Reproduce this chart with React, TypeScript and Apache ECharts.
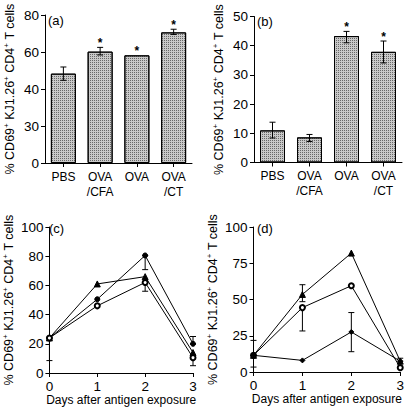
import React, { useEffect, useRef } from 'react';
import * as echarts from 'echarts';

const FONT = '"Liberation Sans", Arial, Helvetica, sans-serif';

// ---- data ----
const categories = ['PBS', 'OVA\n/CFA', 'OVA', 'OVA\n/CT'];

const yTicksA = ['0', '30', '40', '60', '80'];
const barA = [48.3, 60.2, 58.2, 70.6];
const errLowA = [44.7, 58.4, 58.2, 69.5];
const errHighA = [51.9, 62.5, 58.2, 72.3];
const sigA = [0, 1, 1, 1];

const barB = [11.0, 8.6, 43.3, 37.9];
const errLowB = [8.4, 7.2, 41.0, 34.1];
const errHighB = [13.8, 9.6, 44.9, 41.6];
const sigB = [0, 0, 1, 1];

const days = [0, 1, 2, 3];
const triC = [24, 61, 66, 14];
const dotC = [24, 50.5, 80.5, 20];
const openC = [24, 46, 62, 10.5];
const errDayC = [0, 2, 2, 3, 3];
const errLowC = [8.5, 70.8, 56, 5, 20];
const errHighC = [24, 80.5, 62, 10.5, 25];

const triD = [11.5, 53.5, 82, 7.5];
const openD = [11.5, 44.4, 59.5, 3];
const diaD = [11.5, 8, 27.6, 7.5];
const errDayD = [0, 1, 1, 2, 3];
const errLowD = [3.4, 48.5, 28.3, 14, 7.5];
const errHighD = [21.8, 60.2, 44.4, 41, 9.5];

const yName = '% CD69{s|+} KJ1.26{s|+} CD4{s|+} T cells';
const xNameLine = 'Days after antigen exposure';

// ---- helpers ----
const nameStyle = {
  fontFamily: FONT,
  fontSize: 12.5,
  color: '#000',
  lineHeight: 16,
  rich: {
    s: { fontFamily: FONT, fontSize: 8, lineHeight: 8, verticalAlign: 'top', color: '#000' },
  },
};

function yAxis(gridIndex: number, max: number, interval: number, labels?: string[]) {
  return {
    type: 'value',
    gridIndex,
    min: 0,
    max,
    interval,
    name: yName,
    nameLocation: 'middle',
    nameGap: 27,
    nameTextStyle: nameStyle,
    axisLine: { show: true, lineStyle: { color: '#000', width: 1 } },
    axisTick: { show: true, inside: false, length: 4, lineStyle: { color: '#000' } },
    splitLine: { show: false },
    axisLabel: {
      fontFamily: FONT,
      fontSize: 13.5,
      color: '#000',
      margin: 6,
      formatter: labels
        ? (v: number) => labels[Math.round(v / interval)] ?? String(v)
        : undefined,
    },
  };
}

function catAxis(gridIndex: number) {
  return {
    type: 'category',
    gridIndex,
    data: categories,
    axisLine: { show: true, lineStyle: { color: '#000', width: 1 } },
    axisTick: { show: true, alignWithLabel: true, length: 4, lineStyle: { color: '#000' } },
    axisLabel: {
      fontFamily: FONT,
      fontSize: 12,
      lineHeight: 15,
      color: '#000',
      margin: 6,
      interval: 0,
    },
  };
}

function dayAxis(gridIndex: number) {
  return {
    type: 'value',
    gridIndex,
    min: 0,
    max: 3,
    interval: 1,
    name: xNameLine,
    nameLocation: 'middle',
    nameGap: 17,
    nameTextStyle: { fontFamily: FONT, fontSize: 12, color: '#000' },
    axisLine: { show: true, onZero: false, lineStyle: { color: '#000', width: 1 } },
    axisTick: { show: true, length: 4, lineStyle: { color: '#000' } },
    splitLine: { show: false },
    axisLabel: { fontFamily: FONT, fontSize: 13.5, color: '#000', margin: 6 },
  };
}

function errSeries(
  xi: number,
  xs: number[],
  lows: number[],
  highs: number[],
  sig?: number[]
) {
  return {
    type: 'custom',
    xAxisIndex: xi,
    yAxisIndex: xi,
    z: 5,
    silent: true,
    data: xs.map((x, i) => [x, lows[i], highs[i], sig ? sig[i] : 0]),
    renderItem: (_p: any, api: any) => {
      const x = api.value(0);
      const lo = api.value(1);
      const hi = api.value(2);
      const star = api.value(3);
      const pLo = api.coord([x, lo]);
      const pHi = api.coord([x, hi]);
      const cw = 3;
      const st = { stroke: '#000', lineWidth: 1 };
      const children: any[] = [];
      if (hi > lo) {
        children.push({ type: 'line', shape: { x1: pLo[0], y1: pLo[1], x2: pHi[0], y2: pHi[1] }, style: st });
        children.push({ type: 'line', shape: { x1: pHi[0] - cw, y1: pHi[1], x2: pHi[0] + cw, y2: pHi[1] }, style: st });
        children.push({ type: 'line', shape: { x1: pLo[0] - cw, y1: pLo[1], x2: pLo[0] + cw, y2: pLo[1] }, style: st });
      }
      if (star) {
        children.push({
          type: 'text',
          style: {
            text: '*',
            x: pHi[0],
            y: pHi[1] + 2,
            align: 'center',
            verticalAlign: 'bottom',
            font: `bold 12px ${FONT}`,
            fill: '#000',
          },
        });
      }
      return { type: 'group', children };
    },
  };
}

const barStyle = {
  color: '#c9c9c9',
  borderColor: '#000',
  borderWidth: 1,
  decal: {
    symbol: 'rect',
    symbolSize: 1,
    dashArrayX: [1, 1],
    dashArrayY: [1, 1],
    color: 'rgba(40,40,40,0.6)',
  },
};

function lineSeries(xi: number, vals: number[], symbol: string, size: number) {
  return {
    type: 'line',
    xAxisIndex: xi,
    yAxisIndex: xi,
    z: 6,
    data: days.map((d, i) => [d, vals[i]]),
    symbol,
    symbolSize: size,
    showAllSymbol: true,
    lineStyle: { color: '#000', width: 1 },
    itemStyle: { color: '#000', borderColor: '#000', borderWidth: 1 },
  };
}

const panelLabel = (text: string, left: number, top: number) => ({
  type: 'text',
  left,
  top,
  style: { text, font: `13px ${FONT}`, fill: '#000' },
});

export default function App() {
  const ref = useRef<HTMLDivElement>(null);
  useEffect(() => {
    if (!ref.current) return;
    const chart = echarts.init(ref.current, null, { renderer: 'svg' });
    chart.setOption({
      animation: false,
      backgroundColor: '#fff',
      grid: [
        { left: 45, top: 15, width: 147, height: 148 },
        { left: 254, top: 16.5, width: 148, height: 146 },
        { left: 44, top: 227, width: 149, height: 146 },
        { left: 253.5, top: 227, width: 148, height: 145 },
      ],
      xAxis: [catAxis(0), catAxis(1), dayAxis(2), dayAxis(3)],
      yAxis: [
        yAxis(0, 80, 20, yTicksA),
        yAxis(1, 50, 10),
        yAxis(2, 100, 20),
        yAxis(3, 100, 25),
      ],
      graphic: [
        panelLabel('(a)', 48, 14),
        panelLabel('(b)', 257, 15),
        panelLabel('(c)', 49, 222),
        panelLabel('(d)', 257, 222),
      ],
      series: [
        { type: 'bar', xAxisIndex: 0, yAxisIndex: 0, data: barA, barWidth: 25, itemStyle: barStyle },
        errSeries(0, [0, 1, 2, 3], errLowA, errHighA, sigA),
        { type: 'bar', xAxisIndex: 1, yAxisIndex: 1, data: barB, barWidth: 25, itemStyle: barStyle },
        errSeries(1, [0, 1, 2, 3], errLowB, errHighB, sigB),
        errSeries(2, errDayC, errLowC, errHighC),
        lineSeries(2, triC, 'triangle', 6),
        lineSeries(2, dotC, 'circle', 5),
        lineSeries(2, openC, 'emptyCircle', 5),
        errSeries(3, errDayD, errLowD, errHighD),
        lineSeries(3, triD, 'triangle', 6),
        lineSeries(3, openD, 'emptyCircle', 5),
        lineSeries(3, diaD, 'diamond', 5),
      ],
    });
    return () => chart.dispose();
  }, []);
  return (
    <div
      ref={ref}
      style={{ position: 'fixed', left: 0, top: 0, width: 407, height: 408, background: '#fff' }}
    />
  );
}
